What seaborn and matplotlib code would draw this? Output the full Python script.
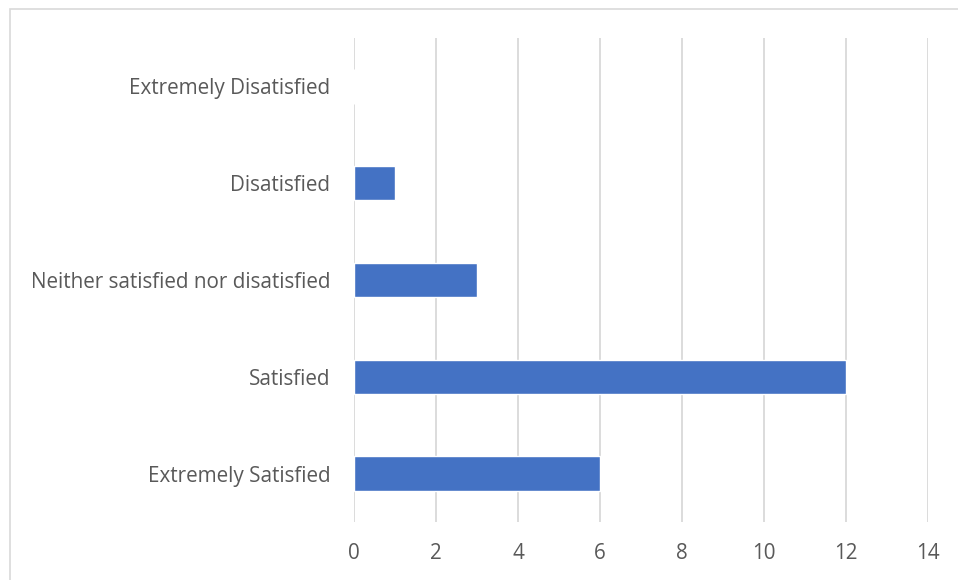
import matplotlib
matplotlib.use("Agg")
import matplotlib.pyplot as plt
from matplotlib.patches import Rectangle
import seaborn as sns
import pandas as pd

categories = [
    "Extremely Disatisfied",
    "Disatisfied",
    "Neither satisfied nor disatisfied",
    "Satisfied",
    "Extremely Satisfied",
]
counts = [0, 1, 3, 12, 6]
x_ticks = [0, 2, 4, 6, 8, 10, 12, 14]

df = pd.DataFrame({"category": categories, "count": counts})

sns.set_theme(style="white")
plt.rcParams["font.family"] = ["Open Sans", "DejaVu Sans"]

W, H = 958, 580
fig = plt.figure(figsize=(W / 100, H / 100), dpi=100)
fig.patch.set_facecolor("white")

# chart frame (extends beyond the right and bottom edges)
fig.add_artist(Rectangle((10 / W, -0.1), 1.2, 1 - 9 / H + 0.1,
                         transform=fig.transFigure, fill=False,
                         edgecolor="#D9D9D9", linewidth=1.2))

ax = fig.add_axes([354 / W, 1 - 522 / H, (928 - 354) / W, (522 - 38) / H])
sns.barplot(data=df, x="count", y="category", order=categories,
            color="#4472C4", saturation=1, width=0.355, ax=ax, orient="h")

ax.set_xlim(0, 14)
ax.set_ylim(len(categories) - 0.5, -0.5)
ax.set_xticks(x_ticks)
ax.set_xticklabels([str(t) for t in x_ticks])
ax.set_xlabel("")
ax.set_ylabel("")
ax.grid(axis="x", color="#D9D9D9", linewidth=1.3)
ax.set_axisbelow(True)
for s in ax.spines.values():
    s.set_visible(False)
ax.tick_params(axis="both", length=0, labelsize=14.9, labelcolor="#595959")
ax.tick_params(axis="y", pad=17)
ax.tick_params(axis="x", pad=15)

fig.savefig("out.png", dpi=100)
